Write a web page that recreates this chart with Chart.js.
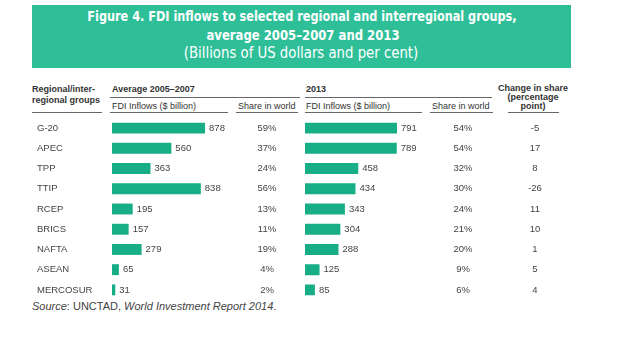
<!DOCTYPE html>
<html>
<head>
<meta charset="utf-8">
<script src="https://cdn.jsdelivr.net/npm/chart.js@4"></script>
<style>
  body { margin: 0; background: #fff; width: 618px; height: 340px; position: relative; overflow: hidden;
         font-family: "Liberation Sans", Arial, sans-serif; color: #3d3d3d; }
  .band { position: absolute; left: 32px; top: 5px; width: 539px; height: 63px; background: #2fbf98; }
  .tt { position: absolute; white-space: nowrap; line-height: 1; color: #fff;
        font-family: "DejaVu Sans Condensed", "DejaVu Sans", sans-serif; }
  .h { position: absolute; white-space: nowrap; line-height: 1; font-size: 9px; color: #333; }
  .b { font-weight: bold; }
  .rule { position: absolute; height: 1px; background: #666; }
  #c1, #c2 { position: absolute; top: 118px; }
  #c1 { left: 0; }
  #c2 { left: 300px; }
</style>
</head>
<body>
<div class="band"></div>
<div class="tt b" id="t1" data-w="429" style="left:302px;top:16px;font-size:14.5px;">Figure 4. FDI inflows to selected regional and interregional groups,</div>
<div class="tt b" id="t2" data-w="193" style="left:303px;top:35px;font-size:14.5px;">average 2005–2007 and 2013</div>
<div class="tt" id="t3" data-w="234" style="left:301px;top:53px;font-size:15px;">(Billions of US dollars and per cent)</div>

<div class="h b" style="left:32px;top:85px;">Regional/inter-</div>
<div class="h b" style="left:32px;top:96px;">regional groups</div>
<div class="h b" style="left:112px;top:85px;">Average 2005–2007</div>
<div class="h" style="left:112px;top:102px;">FDI Inflows (<span>$ billion</span>)</div>
<div class="h" style="left:238px;top:102px;">Share in world</div>
<div class="h b" style="left:306px;top:85px;">2013</div>
<div class="h" style="left:306px;top:102px;">FDI Inflows (<span>$ billion</span>)</div>
<div class="h" style="left:432px;top:102px;">Share in world</div>
<div class="h b" style="left:533px;top:84px;transform:translateX(-50%);text-align:center;line-height:9px;">Change in share<br>(percentage<br>point)</div>

<div class="rule" style="left:32px;top:112px;width:70px;"></div>
<div class="rule" style="left:110px;top:97px;width:190px;"></div>
<div class="rule" style="left:305px;top:97px;width:187px;"></div>
<div class="rule" style="left:110px;top:112px;width:118px;"></div>
<div class="rule" style="left:236px;top:112px;width:62px;"></div>
<div class="rule" style="left:305px;top:112px;width:117px;"></div>
<div class="rule" style="left:430px;top:112px;width:63px;"></div>
<div class="rule" style="left:508px;top:112px;width:51px;"></div>

<canvas id="c1" width="300" height="182"></canvas>
<canvas id="c2" width="318" height="182"></canvas>

<div class="h" style="left:32px;top:301px;font-size:11px;color:#444;"><i>Source</i>: UNCTAD, <i>World Investment Report 2014</i>.</div>

<script>
const groups = ['G-20', 'APEC', 'TPP', 'TTIP', 'RCEP', 'BRICS', 'NAFTA', 'ASEAN', 'MERCOSUR'];
const inflows0507 = [878, 560, 363, 838, 195, 157, 279, 65, 31];
const share0507 = [59, 37, 24, 56, 13, 11, 19, 4, 2];
const inflows2013 = [791, 789, 458, 434, 343, 304, 288, 125, 85];
const share2013 = [54, 54, 32, 30, 24, 21, 20, 9, 6];
const shareChange = [-5, 17, 8, -26, 11, 10, 1, 5, 4];

// squeeze the title lines to the condensed width of the original
document.querySelectorAll('.tt').forEach(function (el) {
  var s = el.dataset.w / el.offsetWidth;
  el.style.transform = 'translate(-50%,-50%) scaleX(' + s + ')';
});

const barColor = '#17ad86';
const txtFont = '9.5px "Liberation Sans", Arial, sans-serif';

// draws value labels and the text columns next to each bar row
function rowText(cols, withGroups) {
  return {
    id: 'rowText',
    afterDatasetsDraw: function (chart) {
      const ctx = chart.ctx;
      const yScale = chart.scales.y;
      const bars = chart.getDatasetMeta(0).data;
      const vals = chart.data.datasets[0].data;
      ctx.save();
      ctx.font = txtFont;
      ctx.fillStyle = '#444';
      ctx.textBaseline = 'middle';
      for (var i = 0; i < vals.length; i++) {
        var y = yScale.getPixelForValue(i);
        ctx.textAlign = 'left';
        ctx.fillText(String(vals[i]), bars[i].x + 4, y);
        if (withGroups) ctx.fillText(groups[i], 37, y);
        ctx.textAlign = 'center';
        cols.forEach(function (c) {
          ctx.fillText(c.fmt(c.data[i]), c.x, y);
        });
      }
      ctx.restore();
    }
  };
}

function makeChart(id, values, padLeft, padRight, plugin) {
  return new Chart(document.getElementById(id), {
    type: 'bar',
    data: {
      labels: groups,
      datasets: [{
        data: values,
        backgroundColor: barColor,
        borderWidth: 0,
        barPercentage: 1,
        categoryPercentage: 0.54
      }]
    },
    options: {
      indexAxis: 'y',
      responsive: false,
      animation: false,
      layout: { padding: { left: padLeft, right: padRight, top: 0, bottom: 0 } },
      plugins: { legend: { display: false }, tooltip: { enabled: false } },
      scales: {
        x: { display: false, min: 0, max: 1000 },
        y: { display: false }
      }
    },
    plugins: [plugin]
  });
}

const pct = function (v) { return v + '%'; };

makeChart('c1', inflows0507, 112, 82, rowText([
  { data: share0507, x: 267, fmt: pct }
], true));

makeChart('c2', inflows2013, 5, 196.7, rowText([
  { data: share2013, x: 163, fmt: pct },
  { data: shareChange, x: 235, fmt: String }
], false));
</script>
</body>
</html>
